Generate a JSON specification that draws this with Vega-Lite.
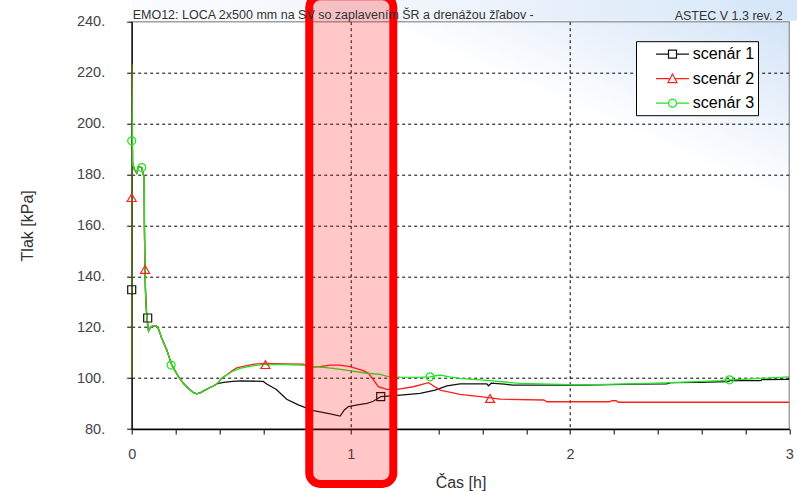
{
  "$schema": "https://vega.github.io/schema/vega-lite/v6.json",
  "width": 657.6,
  "height": 407.3,
  "autosize": {"type": "none"},
  "padding": {"left": 131.7, "top": 21.7, "right": 7.7, "bottom": 63},
  "background": "white",
  "view": {
    "fill": {"gradient": "linear", "x1": 1, "y1": 0, "x2": 0.79, "y2": 0.3,
      "stops": [{"offset": 0, "color": "#d3e4f7"}, {"offset": 0.5, "color": "#e9f1fb"}, {"offset": 1, "color": "#ffffff"}]},
    "stroke": "#a0a0a0",
    "strokeWidth": 1.5
  },
  "config": {
    "font": "Liberation Sans",
    "legend": {
      "orient": "none",
      "legendX": 504.3,
      "legendY": 19.5,
      "title": null,
      "strokeColor": "#000000",
      "fillColor": "#ffffff",
      "padding": 3.5,
      "symbolSize": 289,
      "symbolStrokeWidth": 1.2,
      "symbolOpacity": 1,
      "symbolOffset": 23.5,
      "labelOffset": 10.8,
      "rowPadding": 6.5,
      "labelFont": "Liberation Sans",
      "labelFontSize": 16,
      "labelColor": "#000000"
    }
  },
  "datasets": {
    "curves": [
      {"s": "scenár 1", "t": 0, "p": 100}, {"s": "scenár 1", "t": 0, "p": 223.3}, {"s": "scenár 1", "t": 0.004, "p": 184.5},
      {"s": "scenár 1", "t": 0.012, "p": 182}, {"s": "scenár 1", "t": 0.023, "p": 180.5}, {"s": "scenár 1", "t": 0.03, "p": 183},
      {"s": "scenár 1", "t": 0.046, "p": 182.7}, {"s": "scenár 1", "t": 0.057, "p": 178.5}, {"s": "scenár 1", "t": 0.058, "p": 160},
      {"s": "scenár 1", "t": 0.06, "p": 146}, {"s": "scenár 1", "t": 0.063, "p": 134}, {"s": "scenár 1", "t": 0.066, "p": 128},
      {"s": "scenár 1", "t": 0.07, "p": 123}, {"s": "scenár 1", "t": 0.077, "p": 118.5}, {"s": "scenár 1", "t": 0.085, "p": 119.8},
      {"s": "scenár 1", "t": 0.095, "p": 120.5}, {"s": "scenár 1", "t": 0.11, "p": 120.6}, {"s": "scenár 1", "t": 0.121, "p": 119.6},
      {"s": "scenár 1", "t": 0.137, "p": 115.6}, {"s": "scenár 1", "t": 0.16, "p": 111}, {"s": "scenár 1", "t": 0.183, "p": 105.1},
      {"s": "scenár 1", "t": 0.213, "p": 100.6}, {"s": "scenár 1", "t": 0.235, "p": 98}, {"s": "scenár 1", "t": 0.258, "p": 96},
      {"s": "scenár 1", "t": 0.28, "p": 94.4}, {"s": "scenár 1", "t": 0.297, "p": 93.8}, {"s": "scenár 1", "t": 0.315, "p": 94.3},
      {"s": "scenár 1", "t": 0.335, "p": 95.3}, {"s": "scenár 1", "t": 0.355, "p": 96.2}, {"s": "scenár 1", "t": 0.372, "p": 96.9},
      {"s": "scenár 1", "t": 0.39, "p": 97.8}, {"s": "scenár 1", "t": 0.42, "p": 98.3}, {"s": "scenár 1", "t": 0.46, "p": 98.7},
      {"s": "scenár 1", "t": 0.5, "p": 98.9}, {"s": "scenár 1", "t": 0.6, "p": 98.7}, {"s": "scenár 1", "t": 0.616, "p": 97.7},
      {"s": "scenár 1", "t": 0.66, "p": 95.5}, {"s": "scenár 1", "t": 0.707, "p": 91.7}, {"s": "scenár 1", "t": 0.76, "p": 89.5},
      {"s": "scenár 1", "t": 0.829, "p": 87.2}, {"s": "scenár 1", "t": 0.9, "p": 86}, {"s": "scenár 1", "t": 0.951, "p": 85.1},
      {"s": "scenár 1", "t": 0.97, "p": 87.5}, {"s": "scenár 1", "t": 0.989, "p": 88.8}, {"s": "scenár 1", "t": 1.03, "p": 89.5},
      {"s": "scenár 1", "t": 1.073, "p": 90.1}, {"s": "scenár 1", "t": 1.1, "p": 90.8}, {"s": "scenár 1", "t": 1.136, "p": 92.7},
      {"s": "scenár 1", "t": 1.2, "p": 93.1}, {"s": "scenár 1", "t": 1.316, "p": 94}, {"s": "scenár 1", "t": 1.384, "p": 95.3},
      {"s": "scenár 1", "t": 1.438, "p": 96.9}, {"s": "scenár 1", "t": 1.498, "p": 97.7}, {"s": "scenár 1", "t": 1.62, "p": 97.7},
      {"s": "scenár 1", "t": 1.628, "p": 97}, {"s": "scenár 1", "t": 1.64, "p": 98}, {"s": "scenár 1", "t": 1.7, "p": 97.6},
      {"s": "scenár 1", "t": 1.742, "p": 97.2}, {"s": "scenár 1", "t": 2.06, "p": 97.2}, {"s": "scenár 1", "t": 2.3, "p": 97.6},
      {"s": "scenár 1", "t": 2.44, "p": 97.7}, {"s": "scenár 1", "t": 2.46, "p": 98.2}, {"s": "scenár 1", "t": 2.59, "p": 98.3},
      {"s": "scenár 1", "t": 2.72, "p": 98.6}, {"s": "scenár 1", "t": 2.73, "p": 99}, {"s": "scenár 1", "t": 2.87, "p": 99},
      {"s": "scenár 1", "t": 2.875, "p": 99.4}, {"s": "scenár 1", "t": 3, "p": 99.5},

      {"s": "scenár 2", "t": 0, "p": 100}, {"s": "scenár 2", "t": 0, "p": 223.3}, {"s": "scenár 2", "t": 0.004, "p": 184.5},
      {"s": "scenár 2", "t": 0.012, "p": 182}, {"s": "scenár 2", "t": 0.023, "p": 180.5}, {"s": "scenár 2", "t": 0.03, "p": 183},
      {"s": "scenár 2", "t": 0.046, "p": 182.7}, {"s": "scenár 2", "t": 0.057, "p": 178.5}, {"s": "scenár 2", "t": 0.058, "p": 160},
      {"s": "scenár 2", "t": 0.06, "p": 146}, {"s": "scenár 2", "t": 0.063, "p": 134}, {"s": "scenár 2", "t": 0.066, "p": 128},
      {"s": "scenár 2", "t": 0.07, "p": 123}, {"s": "scenár 2", "t": 0.077, "p": 118.5}, {"s": "scenár 2", "t": 0.085, "p": 119.8},
      {"s": "scenár 2", "t": 0.095, "p": 120.5}, {"s": "scenár 2", "t": 0.11, "p": 120.6}, {"s": "scenár 2", "t": 0.121, "p": 119.6},
      {"s": "scenár 2", "t": 0.137, "p": 115.6}, {"s": "scenár 2", "t": 0.16, "p": 111}, {"s": "scenár 2", "t": 0.183, "p": 105.1},
      {"s": "scenár 2", "t": 0.213, "p": 100.6}, {"s": "scenár 2", "t": 0.235, "p": 98}, {"s": "scenár 2", "t": 0.258, "p": 96},
      {"s": "scenár 2", "t": 0.28, "p": 94.4}, {"s": "scenár 2", "t": 0.297, "p": 93.8}, {"s": "scenár 2", "t": 0.315, "p": 94.3},
      {"s": "scenár 2", "t": 0.335, "p": 95.3}, {"s": "scenár 2", "t": 0.355, "p": 96.2}, {"s": "scenár 2", "t": 0.372, "p": 96.9},
      {"s": "scenár 2", "t": 0.39, "p": 97.8}, {"s": "scenár 2", "t": 0.41, "p": 99.9}, {"s": "scenár 2", "t": 0.434, "p": 101.3},
      {"s": "scenár 2", "t": 0.456, "p": 102.8}, {"s": "scenár 2", "t": 0.479, "p": 104}, {"s": "scenár 2", "t": 0.52, "p": 104.8},
      {"s": "scenár 2", "t": 0.56, "p": 105.5}, {"s": "scenár 2", "t": 0.61, "p": 105.8}, {"s": "scenár 2", "t": 0.7, "p": 105.6},
      {"s": "scenár 2", "t": 0.783, "p": 105.5}, {"s": "scenár 2", "t": 0.805, "p": 104.2}, {"s": "scenár 2", "t": 0.86, "p": 104.5},
      {"s": "scenár 2", "t": 0.905, "p": 105.1}, {"s": "scenár 2", "t": 0.95, "p": 105.1}, {"s": "scenár 2", "t": 0.996, "p": 104.5},
      {"s": "scenár 2", "t": 1.057, "p": 102.9}, {"s": "scenár 2", "t": 1.08, "p": 101.9}, {"s": "scenár 2", "t": 1.103, "p": 99.3},
      {"s": "scenár 2", "t": 1.125, "p": 96.6}, {"s": "scenár 2", "t": 1.164, "p": 95.6}, {"s": "scenár 2", "t": 1.21, "p": 95.6},
      {"s": "scenár 2", "t": 1.285, "p": 96.6}, {"s": "scenár 2", "t": 1.354, "p": 98.2}, {"s": "scenár 2", "t": 1.407, "p": 95.3},
      {"s": "scenár 2", "t": 1.498, "p": 93.6}, {"s": "scenár 2", "t": 1.59, "p": 92.7}, {"s": "scenár 2", "t": 1.68, "p": 91.7},
      {"s": "scenár 2", "t": 1.88, "p": 91.4}, {"s": "scenár 2", "t": 1.894, "p": 90.7}, {"s": "scenár 2", "t": 2.18, "p": 90.7},
      {"s": "scenár 2", "t": 2.19, "p": 91.1}, {"s": "scenár 2", "t": 2.21, "p": 91.1}, {"s": "scenár 2", "t": 2.22, "p": 90.5},
      {"s": "scenár 2", "t": 3, "p": 90.5},

      {"s": "scenár 3", "t": 0, "p": 100}, {"s": "scenár 3", "t": 0, "p": 223.3}, {"s": "scenár 3", "t": 0.004, "p": 184.5},
      {"s": "scenár 3", "t": 0.012, "p": 182}, {"s": "scenár 3", "t": 0.023, "p": 180.5}, {"s": "scenár 3", "t": 0.03, "p": 183},
      {"s": "scenár 3", "t": 0.046, "p": 182.7}, {"s": "scenár 3", "t": 0.057, "p": 178.5}, {"s": "scenár 3", "t": 0.058, "p": 160},
      {"s": "scenár 3", "t": 0.06, "p": 146}, {"s": "scenár 3", "t": 0.063, "p": 134}, {"s": "scenár 3", "t": 0.066, "p": 128},
      {"s": "scenár 3", "t": 0.07, "p": 123}, {"s": "scenár 3", "t": 0.077, "p": 118.5}, {"s": "scenár 3", "t": 0.085, "p": 119.8},
      {"s": "scenár 3", "t": 0.095, "p": 120.5}, {"s": "scenár 3", "t": 0.11, "p": 120.6}, {"s": "scenár 3", "t": 0.121, "p": 119.6},
      {"s": "scenár 3", "t": 0.137, "p": 115.6}, {"s": "scenár 3", "t": 0.16, "p": 111}, {"s": "scenár 3", "t": 0.183, "p": 105.1},
      {"s": "scenár 3", "t": 0.213, "p": 100.6}, {"s": "scenár 3", "t": 0.235, "p": 98}, {"s": "scenár 3", "t": 0.258, "p": 96},
      {"s": "scenár 3", "t": 0.28, "p": 94.4}, {"s": "scenár 3", "t": 0.297, "p": 93.8}, {"s": "scenár 3", "t": 0.315, "p": 94.3},
      {"s": "scenár 3", "t": 0.335, "p": 95.3}, {"s": "scenár 3", "t": 0.355, "p": 96.2}, {"s": "scenár 3", "t": 0.372, "p": 96.9},
      {"s": "scenár 3", "t": 0.39, "p": 97.8}, {"s": "scenár 3", "t": 0.41, "p": 99.9}, {"s": "scenár 3", "t": 0.434, "p": 101.2},
      {"s": "scenár 3", "t": 0.456, "p": 102.5}, {"s": "scenár 3", "t": 0.494, "p": 103.8}, {"s": "scenár 3", "t": 0.55, "p": 104.8},
      {"s": "scenár 3", "t": 0.601, "p": 105.4}, {"s": "scenár 3", "t": 0.7, "p": 105.3}, {"s": "scenár 3", "t": 0.768, "p": 105.1},
      {"s": "scenár 3", "t": 0.85, "p": 104.4}, {"s": "scenár 3", "t": 0.92, "p": 103.8}, {"s": "scenár 3", "t": 1, "p": 102.8},
      {"s": "scenár 3", "t": 1.073, "p": 101.9}, {"s": "scenár 3", "t": 1.133, "p": 101.5}, {"s": "scenár 3", "t": 1.17, "p": 100.6},
      {"s": "scenár 3", "t": 1.225, "p": 100.4}, {"s": "scenár 3", "t": 1.3, "p": 100.3}, {"s": "scenár 3", "t": 1.361, "p": 100.5},
      {"s": "scenár 3", "t": 1.407, "p": 101.2}, {"s": "scenár 3", "t": 1.45, "p": 100.5}, {"s": "scenár 3", "t": 1.498, "p": 99.9},
      {"s": "scenár 3", "t": 1.635, "p": 99}, {"s": "scenár 3", "t": 1.772, "p": 97.9}, {"s": "scenár 3", "t": 2.045, "p": 97.3},
      {"s": "scenár 3", "t": 2.29, "p": 97.7}, {"s": "scenár 3", "t": 2.5, "p": 98.3}, {"s": "scenár 3", "t": 2.685, "p": 99},
      {"s": "scenár 3", "t": 2.727, "p": 99.3}, {"s": "scenár 3", "t": 2.807, "p": 99.6}, {"s": "scenár 3", "t": 3, "p": 100.5}
    ],
    "markers": [
      {"s": "scenár 1", "t": 0, "p": 134.7}, {"s": "scenár 1", "t": 0.073, "p": 123.6}, {"s": "scenár 1", "t": 1.136, "p": 92.7},
      {"s": "scenár 2", "t": 0, "p": 170.9}, {"s": "scenár 2", "t": 0.061, "p": 142.7}, {"s": "scenár 2", "t": 0.61, "p": 105.3}, {"s": "scenár 2", "t": 1.635, "p": 92},
      {"s": "scenár 3", "t": 0, "p": 193.2}, {"s": "scenár 3", "t": 0.046, "p": 182.7}, {"s": "scenár 3", "t": 0.18, "p": 105.1}, {"s": "scenár 3", "t": 1.361, "p": 100.5}, {"s": "scenár 3", "t": 2.727, "p": 99.3}
    ]
  },
  "layer": [
    {
      "data": {"values": [{}]},
      "mark": {"type": "rect", "clip": false,
        "fill": {"gradient": "linear", "x1": 0, "y1": 0, "x2": 1, "y2": 0,
          "stops": [{"offset": 0, "color": "#fafcfe"}, {"offset": 0.5, "color": "#eef4fb"}, {"offset": 1, "color": "#d5e6f8"}]}},
      "encoding": {
        "x": {"datum": 0, "type": "quantitative", "scale": {"domain": [0, 3], "nice": false}},
        "x2": {"datum": 3.05},
        "y": {"datum": 250, "type": "quantitative", "scale": {"domain": [80, 240], "nice": false}},
        "y2": {"datum": 240.35}
      }
    },
    {
      "data": {"name": "curves"},
      "transform": [{"filter": "datum.s === 'scenár 1'"}],
      "mark": {"type": "line", "strokeWidth": 1.3, "clip": true, "color": "#111111"},
      "encoding": {
        "x": {
          "field": "t", "type": "quantitative",
          "scale": {"domain": [0, 3], "nice": false},
          "axis": {
            "values": [0, 0.1, 0.2, 0.3, 0.4, 0.5, 0.6, 0.7, 0.8, 0.9, 1, 1.1, 1.2, 1.3, 1.4, 1.5, 1.6, 1.7, 1.8, 1.9, 2, 2.1, 2.2, 2.3, 2.4, 2.5, 2.6, 2.7, 2.8, 2.9, 3],
            "title": "Čas [h]",
            "labelExpr": "abs(datum.value * 2 - round(datum.value * 2)) < 0.001 ? format(datum.value, '~g') : ''",
            "labelFlush": false,
            "labelOverlap": false,
            "labelFont": "Liberation Sans",
            "labelFontSize": 14.5,
            "labelColor": "#444444",
            "labelPadding": 13,
            "tickSize": 5,
            "tickColor": "#000000",
            "domainColor": "#000000",
            "domainWidth": 1.3,
            "grid": true,
            "gridColor": "#000000",
            "gridDash": [3, 3],
            "gridWidth": 1,
            "gridOpacity": {"condition": {"test": "datum.value > 0.01 && datum.value < 2.99 && abs(datum.value * 2 - round(datum.value * 2)) < 0.001", "value": 1}, "value": 0},
            "titleFont": "Liberation Sans",
            "titleFontSize": 16,
            "titleFontWeight": "normal",
            "titleColor": "#333333",
            "titlePadding": 14
          }
        },
        "y": {
          "field": "p", "type": "quantitative",
          "scale": {"domain": [80, 240], "nice": false},
          "axis": {
            "values": [80, 85, 90, 95, 100, 105, 110, 115, 120, 125, 130, 135, 140, 145, 150, 155, 160, 165, 170, 175, 180, 185, 190, 195, 200, 205, 210, 215, 220, 225, 230, 235, 240],
            "title": "Tlak [kPa]",
            "labelExpr": "datum.value % 20 === 0 ? datum.value + '.' : ''",
            "labelOverlap": false,
            "labelFont": "Liberation Sans",
            "labelFontSize": 14.5,
            "labelColor": "#444444",
            "labelPadding": 22,
            "tickSize": 5,
            "tickColor": "#000000",
            "domainColor": "#000000",
            "domainWidth": 1.3,
            "grid": true,
            "gridColor": "#000000",
            "gridDash": [3, 3],
            "gridWidth": 1,
            "gridOpacity": {"condition": {"test": "datum.value % 20 === 0 && datum.value > 80 && datum.value < 240", "value": 1}, "value": 0},
            "titleFont": "Liberation Sans",
            "titleFontSize": 16,
            "titleFontWeight": "normal",
            "titleColor": "#333333",
            "titlePadding": 41
          }
        },
        "order": {"value": null}
      }
    },
    {
      "data": {"name": "curves"},
      "transform": [{"filter": "datum.s === 'scenár 2'"}],
      "mark": {"type": "line", "strokeWidth": 1.3, "clip": true, "color": "#ff1f1f"},
      "encoding": {
        "x": {"field": "t", "type": "quantitative"},
        "y": {"field": "p", "type": "quantitative"},
        "order": {"value": null}
      }
    },
    {
      "data": {"name": "curves"},
      "transform": [{"filter": "datum.s === 'scenár 3'"}],
      "mark": {"type": "line", "strokeWidth": 1.3, "clip": true, "color": "#1de81d"},
      "encoding": {
        "x": {"field": "t", "type": "quantitative"},
        "y": {"field": "p", "type": "quantitative"},
        "order": {"value": null}
      }
    },
    {
      "data": {"name": "markers"},
      "transform": [{"filter": "datum.s === 'scenár 1'"}],
      "mark": {"type": "point", "shape": "square", "size": 64, "filled": false, "strokeWidth": 1.2, "opacity": 1, "color": "#111111"},
      "encoding": {
        "x": {"field": "t", "type": "quantitative"},
        "y": {"field": "p", "type": "quantitative"}
      }
    },
    {
      "data": {"name": "markers"},
      "transform": [{"filter": "datum.s === 'scenár 2'"}],
      "mark": {"type": "point", "shape": "triangle-up", "size": 81, "filled": false, "strokeWidth": 1.2, "opacity": 1, "color": "#ff1f1f"},
      "encoding": {
        "x": {"field": "t", "type": "quantitative"},
        "y": {"field": "p", "type": "quantitative"}
      }
    },
    {
      "data": {"name": "markers"},
      "transform": [{"filter": "datum.s === 'scenár 3'"}],
      "mark": {"type": "point", "shape": "circle", "size": 64, "filled": false, "strokeWidth": 1.2, "opacity": 1, "color": "#1de81d"},
      "encoding": {
        "x": {"field": "t", "type": "quantitative"},
        "y": {"field": "p", "type": "quantitative"}
      }
    },
    {
      "data": {"name": "markers"},
      "transform": [{"filter": "false"}],
      "mark": {"type": "point", "filled": false, "strokeWidth": 1.2, "opacity": 1},
      "encoding": {
        "x": {"field": "t", "type": "quantitative"},
        "y": {"field": "p", "type": "quantitative"},
        "color": {
          "field": "s", "type": "nominal",
          "scale": {"domain": ["scenár 1", "scenár 2", "scenár 3"], "range": ["#111111", "#ff1f1f", "#1de81d"]},
          "legend": {"labelExpr": "datum.label + '\u00a0\u00a0\u00a0\u00a0\u00a0\u00a0'"}
        },
        "shape": {
          "field": "s", "type": "nominal",
          "scale": {
            "domain": ["scenár 1", "scenár 2", "scenár 3"],
            "range": [
              "M-1.94,0H-0.47M0.47,0H1.94M-0.47,-0.47H0.47V0.47H-0.47Z",
              "M-1.94,0H-0.29M0.29,0H1.94M0,-0.55L0.53,0.45L-0.53,0.45Z",
              "M-1.94,0H-0.47M0.47,0H1.94M0.47,0A0.47,0.47 0 1,1 -0.47,0A0.47,0.47 0 1,1 0.47,0Z"
            ]
          },
          "legend": {"labelExpr": "datum.label + '\u00a0\u00a0\u00a0\u00a0\u00a0\u00a0'"}
        }
      }
    },
    {
      "data": {"values": [{}]},
      "mark": {"type": "rect", "clip": false, "cornerRadius": 11, "fill": "#ff0000", "fillOpacity": 0.22, "stroke": "#ff0000", "strokeWidth": 8},
      "encoding": {
        "x": {"datum": 0.81, "type": "quantitative"},
        "x2": {"datum": 1.1935},
        "y": {"datum": 250, "type": "quantitative"},
        "y2": {"datum": 58.4}
      }
    },
    {
      "data": {"values": [{}]},
      "mark": {"type": "text", "text": "EMO12: LOCA 2x500 mm na SV so zaplavením ŠR a drenážou žľabov -", "align": "left", "baseline": "alphabetic", "dx": 1, "dy": -2.4, "font": "Liberation Sans", "fontSize": 12.5, "color": "#333333"},
      "encoding": {
        "x": {"datum": 0, "type": "quantitative"},
        "y": {"datum": 240, "type": "quantitative"}
      }
    },
    {
      "data": {"values": [{}]},
      "mark": {"type": "text", "text": "ASTEC V 1.3 rev. 2", "align": "right", "baseline": "alphabetic", "dx": -6.5, "dy": -2, "font": "Liberation Sans", "fontSize": 12.5, "color": "#333333"},
      "encoding": {
        "x": {"datum": 3, "type": "quantitative"},
        "y": {"datum": 240, "type": "quantitative"}
      }
    }
  ]
}
